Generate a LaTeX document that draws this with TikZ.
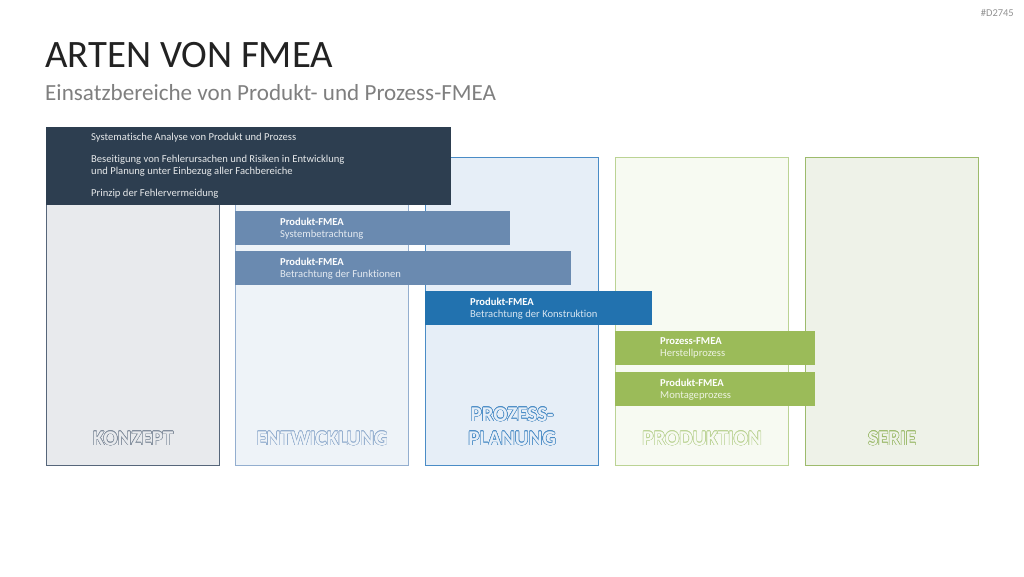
\documentclass[tikz,border=0pt]{standalone}
\usepackage{fontspec}
\setmainfont[Ligatures=NoCommon]{Carlito}
\usepackage[copies]{contour}
\usepackage{tikz}
\usetikzlibrary{positioning}

\definecolor{titlegray}{HTML}{222222}
\definecolor{subgray}{HTML}{7F7F7F}
\definecolor{navybox}{HTML}{2D3E50}
\definecolor{konzfill}{HTML}{E8EAED}
\definecolor{konzline}{HTML}{56667A}
\definecolor{entwfill}{HTML}{EEF3F8}
\definecolor{entwline}{HTML}{93AECF}
\definecolor{planfill}{HTML}{E6EEF7}
\definecolor{planline}{HTML}{4A8CC6}
\definecolor{prodfill}{HTML}{F7FAF2}
\definecolor{prodline}{HTML}{BBD394}
\definecolor{seriefill}{HTML}{EEF2E8}
\definecolor{serieline}{HTML}{9DBB6C}
\definecolor{steelbar}{HTML}{6A8AB0}
\definecolor{bluebar}{HTML}{2272AF}
\definecolor{greenbar}{HTML}{9BBB59}

\contourlength{0.5pt}

\begin{document}
\begin{tikzpicture}[
    x=1pt,
    y=-1pt,
    every node/.style={font=\fontsize{10.6}{12}\selectfont},
    column/.style={draw, line width=1.2pt, anchor=north west,
        minimum width=173pt, minimum height=308pt, inner sep=0pt},
    bar/.style={anchor=north west, minimum height=34pt, inner sep=0pt},
    bartext/.style={anchor=west, align=left, text=white, inner sep=0pt},
    colname/.style={font=\fontsize{21}{24}\bfseries\selectfont,
        align=center, inner sep=0pt}
]

\useasboundingbox (0,0) rectangle (1024,576);

% Heading
\node[anchor=east, inner sep=0pt, text=subgray!85,
    font=\fontsize{10.5}{12}\selectfont]
    (docid) at (1014,13) {\#D2745};
\node[anchor=west, inner sep=0pt, text=titlegray,
    font=\fontsize{38.8}{46}\selectfont]
    (title) at (45,55) {ARTEN VON FMEA};
\node[anchor=west, inner sep=0pt, text=subgray,
    font=\fontsize{23.1}{28}\selectfont]
    (subtitle) at (45,93) {Einsatzbereiche von Produkt- und Prozess-FMEA};

% Phases
\node[column, draw=konzline, fill=konzfill] (konzept) at (46,157) {};
\node[column, draw=entwline, fill=entwfill] (entwicklung) at (235,157) {};
\node[column, draw=planline, fill=planfill] (planung) at (425,157) {};
\node[column, draw=prodline, fill=prodfill] (produktion) at (615,157) {};
\node[column, draw=serieline, fill=seriefill] (serie) at (805,157) {};

\node[colname, above=20pt of konzept.south]
    (konzeptname) {\contour{konzline!75}{\color{konzfill}KONZEPT}};
\node[colname, above=20pt of entwicklung.south]
    (entwicklungname) {\contour{entwline}{\color{entwfill}ENTWICKLUNG}};
\node[colname, above=20pt of planung.south]
    (planungname) {\contour{planline}{\color{planfill}PROZESS-}\\
                   \contour{planline}{\color{planfill}PLANUNG}};
\node[colname, above=20pt of produktion.south]
    (produktionname) {\contour{prodline}{\color{prodfill}PRODUKTION}};
\node[colname, above=20pt of serie.south]
    (seriename) {\contour{serieline}{\color{seriefill}SERIE}};

% Goals
\node[anchor=north west, fill=navybox, minimum width=405pt,
    minimum height=78pt, inner sep=0pt] (ziele) at (46,127) {};
\node[anchor=west, align=left, inner sep=0pt, text=white!88!navybox,
    right=45pt of ziele.west]
    (zieletext) {Systematische Analyse von Produkt und Prozess\\[10pt]
    Beseitigung von Fehlerursachen und Risiken in Entwicklung\\
    und Planung unter Einbezug aller Fachbereiche\\[10pt]
    Prinzip der Fehlervermeidung};

% FMEA bars
\node[bar, fill=steelbar, minimum width=275pt] (system) at (235,211) {};
\node[bartext, right=45pt of system.west] (systemtext)
    {\textbf{Produkt-FMEA}\\{\color{white!82!steelbar}Systembetrachtung}};

\node[bar, fill=steelbar, minimum width=336pt] (funktion) at (235,251) {};
\node[bartext, right=45pt of funktion.west] (funktiontext)
    {\textbf{Produkt-FMEA}\\{\color{white!82!steelbar}Betrachtung der Funktionen}};

\node[bar, fill=bluebar, minimum width=227pt] (konstruktion) at (425,291) {};
\node[bartext, right=45pt of konstruktion.west] (konstruktiontext)
    {\textbf{Produkt-FMEA}\\{\color{white!82!bluebar}Betrachtung der Konstruktion}};

\node[bar, fill=greenbar, minimum width=200pt] (herstell) at (615,331) {};
\node[bartext, right=45pt of herstell.west] (herstelltext)
    {\textbf{Prozess-FMEA}\\{\color{white!82!greenbar}Herstellprozess}};

\node[bar, fill=greenbar, minimum width=200pt] (montage) at (615,372) {};
\node[bartext, right=45pt of montage.west] (montagetext)
    {\textbf{Produkt-FMEA}\\{\color{white!82!greenbar}Montageprozess}};

\end{tikzpicture}
\end{document}
